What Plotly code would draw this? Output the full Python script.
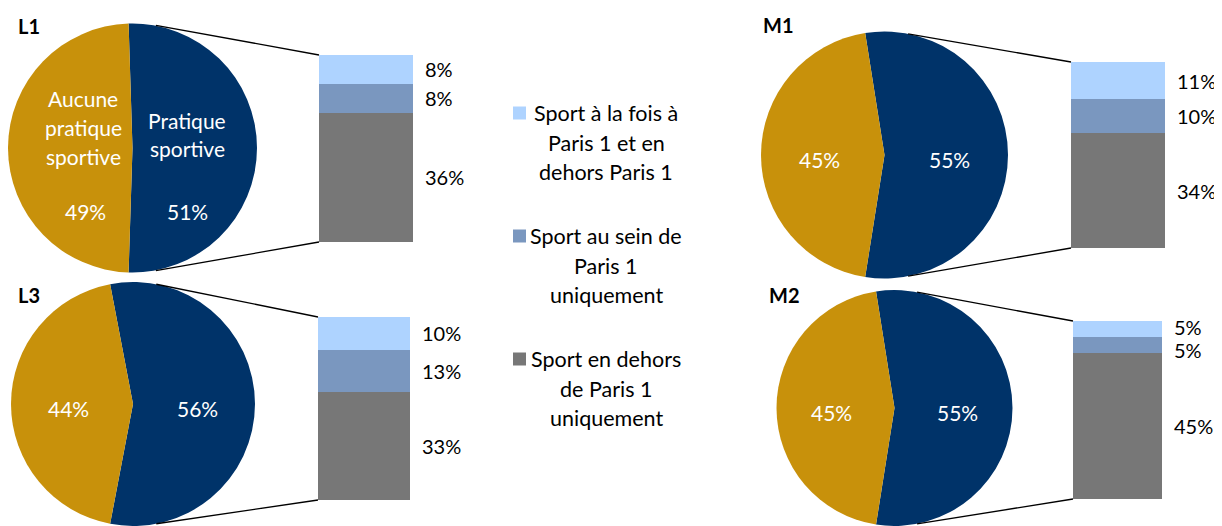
import math
import plotly.graph_objects as go

# page is rendered with an 8px body margin, so the figure is laid out in
# page-pixel coordinates and shifted back by that offset
OFF = 8
W, H = 1222 - OFF, 526 - OFF

# ---------------- data ----------------
groups = ["L1", "L3", "M1", "M2"]
no_sport = [49, 44, 45, 45]          # Aucune pratique sportive
sport = [51, 56, 55, 55]             # Pratique sportive
both_places = [8, 10, 11, 5]         # Sport à la fois à Paris 1 et en dehors Paris 1
paris1_only = [8, 13, 10, 5]         # Sport au sein de Paris 1 uniquement
outside_only = [36, 33, 34, 45]      # Sport en dehors de Paris 1 uniquement

pie_names = ["Aucune pratique sportive", "Pratique sportive"]
pie_name_lines = [["Aucune", "pratique", "sportive"], ["Pratique", "sportive"]]
bar_names = [
    "Sport à la fois à Paris 1 et en dehors Paris 1",
    "Sport au sein de Paris 1 uniquement",
    "Sport en dehors de Paris 1 uniquement",
]
legend_lines = [
    ["Sport à la fois à", "Paris 1 et en", "dehors Paris 1"],
    ["Sport au sein de", "Paris 1", "uniquement"],
    ["Sport en dehors", "de Paris 1", "uniquement"],
]

# ---------------- style / layout ----------------
GOLD = "#C8910B"
NAVY = "#003369"
LIGHT = "#AED3FF"
MID = "#7A97BF"
GRAY = "#777777"
FONT = "Lato"
FS = 21

# pixel layout of each panel (page pixels): pie centre, radius, bar box, title position
panels = [
    dict(cx=132, cy=148, r=125, bx0=319, bx1=413, by0=55, by1=242, tx=16, ty=26),
    dict(cx=133, cy=404, r=122, bx0=318, bx1=410, by0=317, by1=500, tx=16, ty=295),
    dict(cx=884.5, cy=155, r=123.5, bx0=1071, bx1=1165, by0=62, by1=248, tx=761, ty=25),
    dict(cx=894.5, cy=408, r=118, bx0=1073, bx1=1162, by0=321, by1=499, tx=767, ty=295),
]


def px(x):
    return (x - OFF) / W


def py(y):
    return 1 - (y - OFF) / H


def clamp(v):
    return max(0.0, min(1.0, v))


fig = go.Figure()
shapes = []
annotations = []
layout_axes = {}


def note(x, y, text, color="black", size=FS, xanchor="center", yref="paper", yshift=0, bold=False):
    annotations.append(dict(
        x=x, y=y, xref="paper", yref=yref, text=f"<b>{text}</b>" if bold else text,
        showarrow=False, xanchor=xanchor, yanchor="middle", yshift=yshift,
        font=dict(family=FONT, size=size, color=color)))


for i, g in enumerate(groups):
    p = panels[i]
    cx, cy, r = p["cx"], p["cy"], p["r"]
    # ---- pie ----
    rot = 90 - sport[i] / 100 * 180
    fig.add_trace(go.Pie(
        values=[sport[i], no_sport[i]],
        labels=[pie_names[1], pie_names[0]],
        marker=dict(colors=[NAVY, GOLD], line=dict(width=0)),
        sort=False, direction="clockwise", rotation=rot,
        textinfo="none", hoverinfo="label+percent", showlegend=False,
        domain=dict(x=[clamp(px(cx - r)), clamp(px(cx + r))],
                    y=[clamp(py(cy + r)), clamp(py(cy - r))]),
    ))
    # pie labels
    if i == 0:
        gx, nx = cx - 0.39 * r, cx + 0.44 * r
        for k, line in enumerate(pie_name_lines[0]):
            note(px(gx), py(cy - 49 + k * 28.5), line, color="white")
        for k, line in enumerate(pie_name_lines[1]):
            note(px(nx), py(cy - 28 + k * 28.5), line, color="white")
        note(px(gx + 2), py(cy + 63), f"{no_sport[i]}%", color="white")
        note(px(nx), py(cy + 63), f"{sport[i]}%", color="white")
    else:
        frac = 0.53
        note(px(cx - frac * r), py(cy + 4), f"{no_sport[i]}%", color="white")
        note(px(cx + frac * r), py(cy + 4), f"{sport[i]}%", color="white")

    # ---- stacked bar ----
    xa = "x" if i == 0 else f"x{i+1}"
    ya = "y" if i == 0 else f"y{i+1}"
    total = both_places[i] + paris1_only[i] + outside_only[i]
    for name, vals, col in [(bar_names[2], outside_only, GRAY),
                            (bar_names[1], paris1_only, MID),
                            (bar_names[0], both_places, LIGHT)]:
        fig.add_trace(go.Bar(x=[0], y=[vals[i]], name=name, marker=dict(color=col, line=dict(width=0)),
                             width=1, xaxis=xa, yaxis=ya, showlegend=False))
    axname = "" if i == 0 else str(i + 1)
    layout_axes[f"xaxis{axname}"] = dict(domain=[px(p["bx0"]), px(p["bx1"])], range=[-0.5, 0.5],
                                         visible=False, fixedrange=True)
    layout_axes[f"yaxis{axname}"] = dict(domain=[py(p["by1"]), py(p["by0"])], range=[0, total],
                                         visible=False, fixedrange=True)
    # bar value labels
    pxu = (p["by1"] - p["by0"]) / total
    segs = [(outside_only[i], 0), (paris1_only[i], outside_only[i]),
            (both_places[i], outside_only[i] + paris1_only[i])]
    centres = [b + v / 2 for v, b in segs]
    shifts = [0, 0, 0]
    gap = (centres[2] - centres[1]) * pxu
    if gap < 23:
        shifts[2] = 2
        shifts[1] = -(23 - gap - 2)
    for (v, b), c, s in zip(segs, centres, shifts):
        note(px(p["bx1"] + 10), c, f"{v}%", xanchor="left", yref=ya, yshift=s, size=20)
    # ---- connector lines ----
    ang = math.radians(11)
    sx = cx + r * math.sin(ang)
    for sy, ey in [(cy - r * math.cos(ang), p["by0"]), (cy + r * math.cos(ang), p["by1"])]:
        shapes.append(dict(type="line", xref="paper", yref="paper",
                           x0=px(sx), y0=py(sy), x1=px(p["bx0"]), y1=py(ey),
                           line=dict(color="black", width=1.3)))
    # ---- title ----
    note(px(p["tx"]), py(p["ty"]), g, size=20, xanchor="left", bold=True)

# ---------------- legend (manual, centred text) ----------------
leg_cols = [LIGHT, MID, GRAY]
leg_first = [113, 236, 359]
for k, lines in enumerate(legend_lines):
    y0 = leg_first[k]
    shapes.append(dict(type="rect", xref="paper", yref="paper",
                       x0=px(513), x1=px(526), y0=py(y0 - 6.5), y1=py(y0 + 6.5),
                       fillcolor=leg_cols[k], line=dict(width=0)))
    for j, line in enumerate(lines):
        note(px(606), py(y0 + j * 29.5), line, size=21.5)

fig.update_layout(
    width=W, height=H,
    margin=dict(l=0, r=0, t=0, b=0),
    paper_bgcolor="white", plot_bgcolor="rgba(0,0,0,0)",
    barmode="stack", bargap=0,
    showlegend=False,
    shapes=shapes, annotations=annotations,
    font=dict(family=FONT, size=FS),
    **layout_axes,
)

fig.write_html("out.html")
